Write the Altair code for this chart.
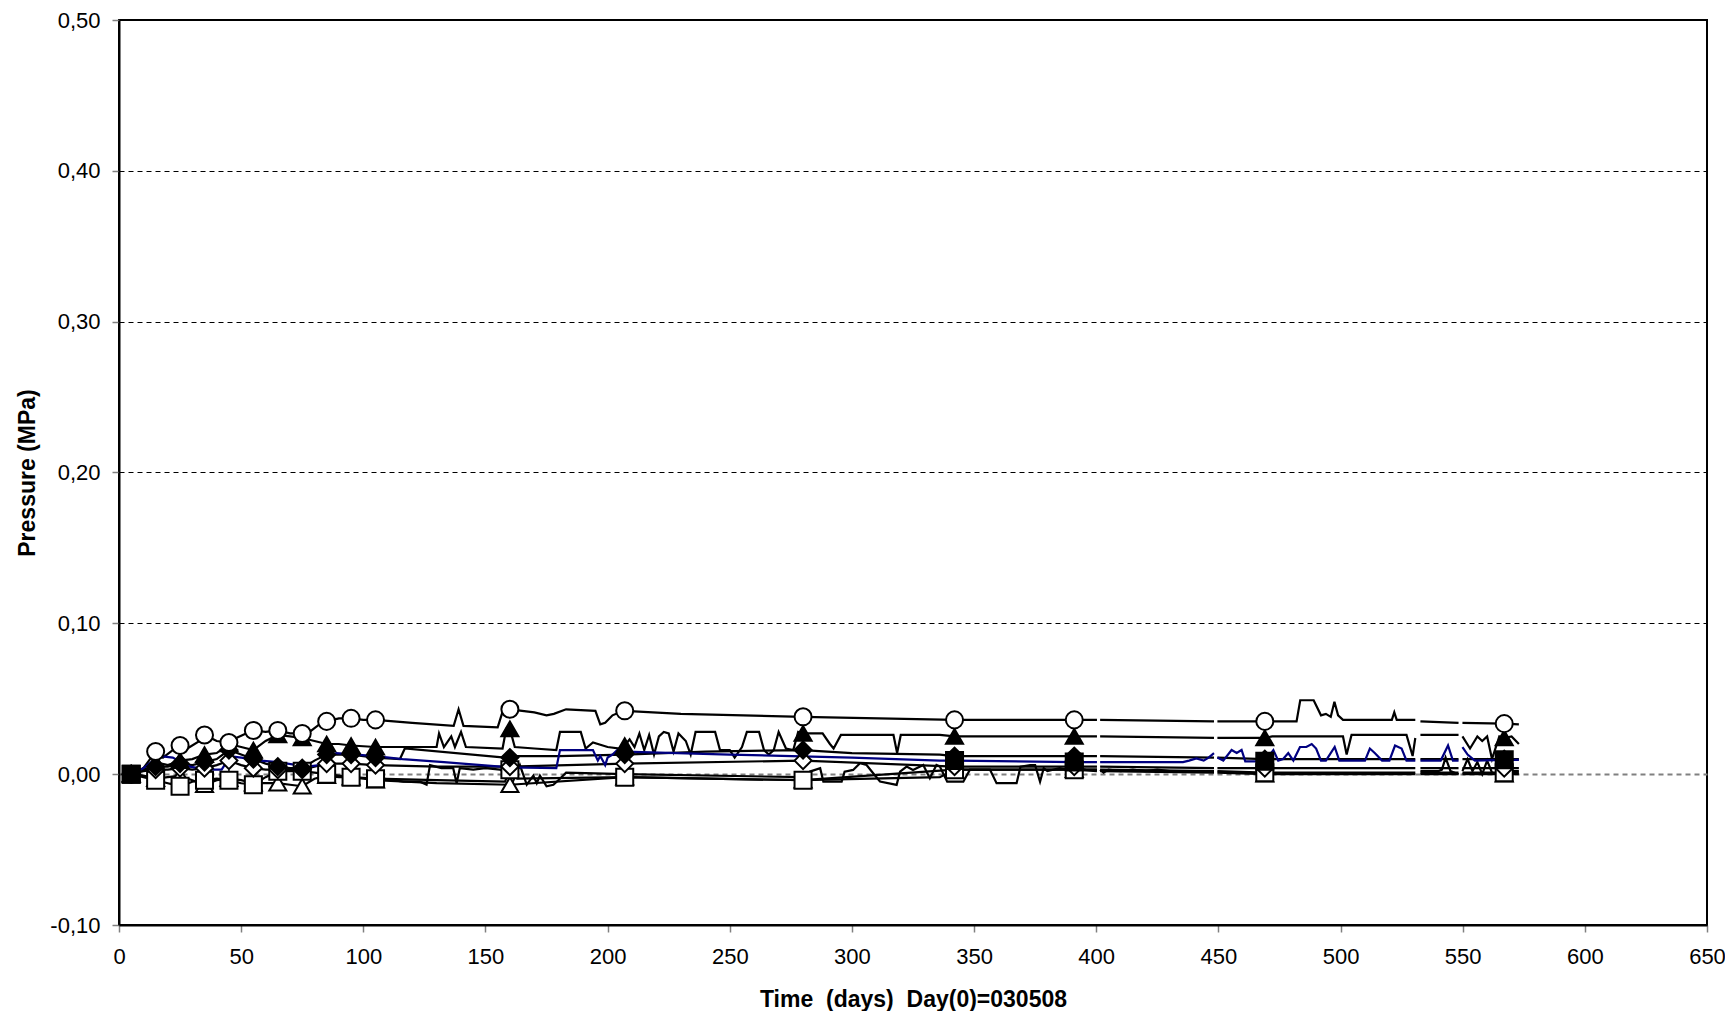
import altair as alt
import pandas as pd

# ---------------- data ----------------
MARK_DAYS = [5, 15, 25, 35, 45, 55, 65, 75, 85, 95, 105, 160, 207, 280, 342, 391, 469, 567]
B1_MARK_DAYS = [5, 342, 391, 469, 567]
GAPS = [(400.3, 401.6), (448.2, 449.6), (530.6, 532.7), (548.3, 549.9)]
Y_TICKS = [-0.1, 0.0, 0.1, 0.2, 0.3, 0.4, 0.5]
X_TICKS = list(range(0, 651, 50))

# circle (open)
C1_DAYS = [5, 10, 15, 18, 22, 25, 28, 33, 35, 40,
           45, 48, 52, 55, 60, 65, 70, 75, 78, 82,
           85, 90, 95, 100, 105, 120, 137, 139, 141, 155,
           157.5, 160, 165, 170, 175, 178, 183, 195, 197, 199,
           202, 205, 207, 230, 280, 342, 391, 400.3, 401.6, 448.2,
           449.6, 469, 482, 483.5, 489, 492, 494, 496, 497.5, 499,
           501, 521, 522, 523, 530.6, 532.7, 548.3, 549.9, 567, 573]
C1_VALS = [0.000, 0.004, 0.015, 0.011, 0.016, 0.019, 0.017, 0.022, 0.026, 0.022,
           0.021, 0.024, 0.027, 0.029, 0.028, 0.029, 0.027, 0.027, 0.028, 0.033,
           0.035, 0.037, 0.037, 0.036, 0.036, 0.034, 0.032, 0.043, 0.032, 0.031,
           0.044, 0.043, 0.042, 0.041, 0.039, 0.040, 0.043, 0.042, 0.033, 0.034,
           0.039, 0.041, 0.042, 0.040, 0.038, 0.036, 0.036, 0.036, 0.036, 0.035,
           0.035, 0.035, 0.035, 0.049, 0.049, 0.039, 0.040, 0.038, 0.048, 0.039,
           0.036, 0.036, 0.041, 0.036, 0.036, 0.035, 0.034, 0.034, 0.0335, 0.033]

# filled triangle
T1_DAYS = [5, 10, 15, 20, 25, 30, 35, 40, 45, 50,
           55, 60, 65, 70, 75, 80, 85, 90, 95, 105,
           130, 131, 133, 136, 137.5, 140, 142, 157, 158.5, 160,
           162, 170, 179, 180.5, 189, 191, 194, 200, 205, 207,
           209, 211, 213, 215, 217, 219, 221, 223, 225, 227,
           229, 232, 234, 236, 244, 246, 250, 252, 255, 257,
           262, 264, 266, 268, 270, 273, 276, 278, 280, 283,
           288, 291, 292.5, 295.5, 317, 318.5, 320, 336, 342, 391,
           400.3, 401.6, 448.2, 449.6, 469, 472, 501, 502.5, 504.5, 527,
           529.5, 530.6, 532.7, 548.3, 549.9, 553, 556, 558, 560, 562,
           565, 567, 570, 573]
T1_VALS = [0.000, 0.004, 0.008, 0.006, 0.009, 0.010, 0.013, 0.014, 0.020, 0.018,
           0.016, 0.022, 0.026, 0.025, 0.024, 0.022, 0.020, 0.020, 0.019, 0.018,
           0.018, 0.027, 0.018, 0.025, 0.018, 0.028, 0.018, 0.017, 0.030, 0.030,
           0.018, 0.017, 0.016, 0.028, 0.028, 0.017, 0.021, 0.018, 0.017, 0.019,
           0.023, 0.018, 0.027, 0.016, 0.026, 0.013, 0.025, 0.028, 0.027, 0.015,
           0.027, 0.022, 0.013, 0.028, 0.028, 0.016, 0.016, 0.011, 0.018, 0.028,
           0.028, 0.016, 0.013, 0.016, 0.028, 0.017, 0.016, 0.028, 0.027, 0.027,
           0.027, 0.020, 0.017, 0.026, 0.026, 0.014, 0.026, 0.026, 0.025, 0.025,
           0.025, 0.025, 0.024, 0.024, 0.024, 0.025, 0.025, 0.013, 0.026, 0.026,
           0.012, 0.024, 0.026, 0.026, 0.025, 0.017, 0.025, 0.022, 0.025, 0.010,
           0.025, 0.024, 0.025, 0.020]

# filled diamond
D1_DAYS = [5, 10, 15, 20, 25, 30, 35, 40, 45, 50,
           55, 60, 65, 70, 75, 80, 85, 90, 95, 105,
           115, 117, 158, 160, 163, 180, 207, 240, 280, 300,
           336, 342, 391, 400.3, 401.6, 448.2, 449.6, 469, 530.6, 532.7,
           548.3, 549.9, 567, 573]
D1_VALS = [0.000, 0.003, 0.005, 0.005, 0.007, 0.006, 0.008, 0.010, 0.016, 0.013,
           0.010, 0.007, 0.005, 0.004, 0.004, 0.009, 0.013, 0.013, 0.013, 0.011,
           0.010, 0.017, 0.011, 0.011, 0.012, 0.012, 0.013, 0.015, 0.016, 0.014,
           0.013, 0.012, 0.012, 0.012, 0.012, 0.011, 0.011, 0.010, 0.010, 0.010,
           0.010, 0.010, 0.010, 0.010]

# open diamond
D2_DAYS = [5, 10, 15, 20, 25, 30, 35, 40, 45, 50,
           55, 60, 65, 70, 75, 80, 85, 90, 95, 105,
           130, 160, 207, 280, 342, 391, 400.3, 401.6, 448.2, 449.6,
           469, 530.6, 532.7, 548.3, 549.9, 567, 573]
D2_VALS = [0.000, 0.002, 0.003, 0.003, 0.004, 0.003, 0.004, 0.006, 0.009, 0.006,
           0.004, 0.003, 0.003, 0.003, 0.003, 0.005, 0.007, 0.007, 0.007, 0.006,
           0.005, 0.005, 0.007, 0.009, 0.005, 0.005, 0.005, 0.005, 0.004, 0.004,
           0.004, 0.004, 0.004, 0.004, 0.004, 0.004, 0.004]

# open square
S1_DAYS = [5, 10, 15, 20, 25, 30, 35, 40, 45, 50,
           55, 60, 65, 70, 75, 80, 85, 90, 95, 105,
           130, 158, 160, 163, 207, 280, 336, 342, 391, 400.3,
           401.6, 448.2, 449.6, 469, 530.6, 532.7, 548.3, 549.9, 567, 573]
S1_VALS = [0.000, -0.002, -0.004, -0.006, -0.008, -0.005, -0.004, -0.003, -0.004, -0.006,
           -0.007, -0.002, 0.002, 0.002, 0.002, 0.001, 0.000, -0.001, -0.002, -0.003,
           -0.004, -0.005, 0.003, -0.003, -0.002, -0.004, -0.002, 0.003, 0.003, 0.003,
           0.003, 0.002, 0.002, 0.001, 0.001, 0.001, 0.001, 0.001, 0.001, 0.001]

# open triangle
T2_DAYS = [5, 10, 15, 20, 25, 30, 35, 40, 45, 50,
           55, 60, 65, 70, 75, 80, 85, 90, 95, 105,
           130, 160, 207, 280, 342, 391, 400.3, 401.6, 448.2, 449.6,
           469, 530.6, 532.7, 548.3, 549.9, 567, 573]
T2_VALS = [0.000, -0.001, -0.003, -0.002, -0.001, -0.004, -0.007, -0.004, -0.003, -0.004,
           -0.006, -0.006, -0.006, -0.007, -0.008, -0.003, -0.001, -0.002, -0.002, -0.004,
           -0.006, -0.007, -0.002, -0.004, 0.003, 0.003, 0.002, 0.002, 0.001, 0.001,
           0.000, 0.000, 0.000, 0.000, 0.000, 0.000, 0.000]

# blue trace (filled square markers)
B1_DAYS = [5, 10, 14, 17, 22, 29, 36, 42, 44, 45.5,
           50, 58, 65, 77, 82, 85, 89, 105, 116, 133,
           160, 179, 180.5, 194, 196, 197, 199, 200, 202, 204,
           207, 250, 300, 336, 342, 391, 400.3, 401.6, 435.5, 438,
           441, 444, 446, 448.2, 449.6, 452, 455.4, 457.5, 459.5, 461,
           469, 472.5, 474.5, 476.5, 478.6, 480.7, 483.4, 486, 488.2, 490,
           492, 494, 497.6, 499.5, 510, 512, 514, 517, 520, 522.3,
           525, 527, 530.6, 532.7, 541, 544, 546, 548.3, 549.9, 552,
           555, 567, 573]
B1_VALS = [0.000, 0.004, 0.009, 0.012, 0.011, 0.005, 0.003, 0.003, 0.008, 0.012,
           0.011, 0.009, 0.008, 0.005, 0.006, 0.012, 0.014, 0.012, 0.010, 0.008,
           0.0045, 0.004, 0.016, 0.016, 0.009, 0.012, 0.006, 0.011, 0.013, 0.016,
           0.015, 0.013, 0.011, 0.009, 0.009, 0.008, 0.008, 0.008, 0.008, 0.009,
           0.0105, 0.009, 0.011, 0.014, 0.011, 0.009, 0.016, 0.014, 0.016, 0.0085,
           0.0085, 0.016, 0.009, 0.010, 0.014, 0.009, 0.018, 0.018, 0.020, 0.017,
           0.009, 0.009, 0.018, 0.009, 0.009, 0.017, 0.014, 0.009, 0.009, 0.019,
           0.017, 0.009, 0.009, 0.009, 0.009, 0.019, 0.009, 0.009, 0.018, 0.013,
           0.009, 0.0095, 0.0095]

# noisy black trace near zero (no markers)
N1_DAYS = [108, 116.4, 123.2, 125.9, 127.3, 132, 136.8, 138.2, 139.5, 145,
           150, 156, 158.7, 160.7, 164.1, 166.9, 169.6, 171, 172.3, 175,
           177.8, 180.5, 183, 207, 280, 282.8, 287, 288.3, 295.8, 297,
           300.5, 303.3, 306, 308.7, 311.5, 318.3, 319.7, 322.4, 325, 329.2,
           331.9, 334.6, 336, 339, 345.6, 348.3, 356.5, 359.2, 367.4, 369,
           373, 375, 377, 378.5, 380, 385, 388, 392, 396, 400.3,
           401.6, 403, 405, 410, 415, 420, 425, 430, 434.3, 448.2,
           532.7, 540, 541.5, 543, 545, 548.3, 549.9, 552, 554, 556,
           558, 560, 562, 564, 567, 570, 573]
N1_VALS = [-0.003, -0.005, -0.005, -0.007, 0.006, 0.004, 0.004, -0.006, 0.004, 0.003,
           0.004, 0.003, 0.001, -0.007, 0.006, -0.007, -0.001, -0.006, -0.001, -0.008,
           -0.007, -0.003, 0.001, 0.000, -0.002, 0.0017, 0.0039, -0.0049, -0.0049, 0.0017,
           0.0028, 0.0072, 0.0061, 0.0006, -0.0049, -0.0071, 0.0017, 0.0050, 0.0028, 0.0061,
           -0.0027, 0.0061, 0.005, -0.005, -0.005, 0.003, 0.003, -0.006, -0.006, 0.005,
           0.006, 0.006, -0.005, 0.004, 0.002, 0.004, 0.003, 0.004, 0.003, 0.003,
           0.003, 0.001, 0.003, 0.002, 0.003, 0.002, 0.003, 0.002, 0.002, 0.002,
           0.002, 0.002, 0.003, 0.011, 0.002, 0.000, 0.002, 0.010, 0.002, 0.008,
           0.000, 0.009, 0.001, 0.000, 0.007, 0.002, 0.002]

# series: name, days, values, line colour, marker shape, marker fill, marker days
SERIES = [
    ("N1", N1_DAYS, N1_VALS, "#000000", None, None, []),
    ("T2", T2_DAYS, T2_VALS, "#000000", "triangle-up", "#ffffff", MARK_DAYS),
    ("S1", S1_DAYS, S1_VALS, "#000000", "square", "#ffffff", MARK_DAYS),
    ("D2", D2_DAYS, D2_VALS, "#000000", "diamond", "#ffffff", MARK_DAYS),
    ("D1", D1_DAYS, D1_VALS, "#000000", "diamond", "#000000", MARK_DAYS),
    ("T1", T1_DAYS, T1_VALS, "#000000", "triangle-up", "#000000", MARK_DAYS),
    ("C1", C1_DAYS, C1_VALS, "#000000", "circle", "#ffffff", MARK_DAYS),
    ("B1", B1_DAYS, B1_VALS, "#000080", "square", "#000000", B1_MARK_DAYS),
]

line_rows, mark_rows = [], []
for order, (name, days, vals, col, shape, fill, mdays) in enumerate(SERIES):
    for d, v in zip(days, vals, strict=True):
        seg = sum(1 for g in GAPS if g[1] <= d)
        line_rows.append({"day": d, "val": v, "series": name, "seg": seg,
                          "col": col, "ord": order})
        if shape is not None and d in mdays:
            mark_rows.append({"day": d, "val": v, "series": name, "shape": shape,
                              "fill": fill, "stroke": "#000000", "ord": order})

lines_df = pd.DataFrame(line_rows)
marks_df = pd.DataFrame(mark_rows)

FONT = "Liberation Sans"

x_enc = alt.X("day:Q",
              scale=alt.Scale(domain=[0, 650], nice=False),
              axis=alt.Axis(values=X_TICKS, title="Time\u00a0\u00a0(days)\u00a0\u00a0Day(0)=030508",
                            grid=False, labelPadding=14, titlePadding=21,
                            labelFlush=False, labelOverlap=False))
y_enc = alt.Y("val:Q",
              scale=alt.Scale(domain=[-0.1, 0.5], nice=False, zero=False),
              axis=alt.Axis(values=Y_TICKS, title="Pressure (MPa)",
                            labelExpr="(datum.value < -1e-9 ? '-' : '') + replace(format(abs(datum.value), '.2f'), '.', ',')",
                            grid=True,
                            gridColor=alt.condition("abs(datum.value) < 1e-9",
                                                    alt.value("#808080"), alt.value("#000000")),
                            gridWidth=alt.condition("abs(datum.value) < 1e-9",
                                                    alt.value(2), alt.value(1)),
                            gridDash=[5, 4],
                            labelPadding=12, titlePadding=10,
                            labelFlush=False, labelOverlap=False))

lines = alt.Chart(lines_df).mark_line(strokeWidth=2.2, interpolate="linear").encode(
    x=x_enc, y=y_enc,
    detail=["series:N", "seg:Q"],
    color=alt.Color("col:N", scale=None),
    order=alt.Order("day:Q"),
)

points = alt.Chart(marks_df).mark_point(filled=True, size=290, strokeWidth=2, opacity=1).encode(
    x="day:Q", y="val:Q",
    shape=alt.Shape("shape:N", scale=None),
    fill=alt.Fill("fill:N", scale=None),
    stroke=alt.Stroke("stroke:N", scale=None),
    order=alt.Order("ord:Q"),
)

chart = alt.layer(lines, points).properties(
    width=1588, height=905,
    autosize=alt.AutoSizeParams(type="none"),
    padding={"left": 111, "top": 12, "right": 18, "bottom": 86},
    background="white",
).configure_view(
    stroke="#000000", strokeWidth=2
).configure_axis(
    labelFont=FONT, titleFont=FONT, labelFontSize=22, titleFontSize=23,
    labelColor="#000000", titleColor="#000000", titleFontWeight="bold",
    domainColor="#000000", domainWidth=2,
    tickColor="#808080", tickWidth=1.5, tickSize=7,
)

chart.save("out.html", embed_options={"renderer": "svg", "actions": False})
